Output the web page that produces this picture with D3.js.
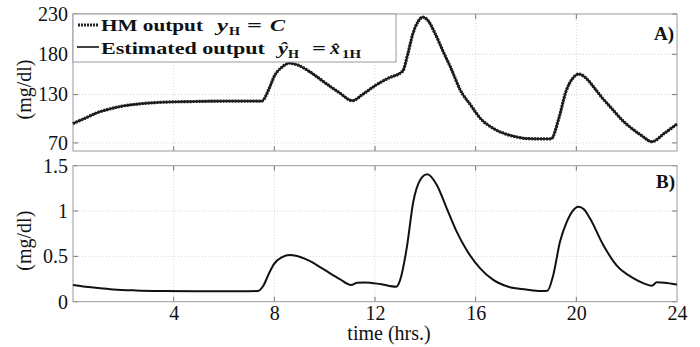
<!DOCTYPE html>
<html><head><meta charset="utf-8">
<script src="https://cdn.jsdelivr.net/npm/d3@7"></script>
<style>body{margin:0;background:#fff}svg{display:block}</style>
</head><body><svg id="c" width="700" height="347"></svg>
<script>
// ---- data ----
const xTicks = [4, 8, 12, 16, 20, 24];
const yTicksTop = [70, 130, 180, 230];
const yTicksBot = [0, 0.5, 1, 1.5];
const yTickLabelsBot = ["0", "0.5", "1", "1.5"];

const timeTop = [0,0.5,1,1.5,2,2.5,3,4,5,6,7,7.5,7.8,8.0,8.3,8.6,8.9,9.4,10.0,10.6,11.1,11.5,12.0,12.5,13.1,13.3,13.5,13.7,13.9,14.1,14.4,14.7,15.0,15.4,15.8,16.2,16.7,17.2,17.7,18.0,18.5,19.0,19.3,19.6,19.85,20.1,20.4,20.7,21.0,21.4,21.8,22.2,22.6,23.0,23.5,24];
const hmOutput = [94,101,108,112.5,116,118,119.5,121,121.5,122,122,122,138,153,164,169,167,158.5,145,132,122.5,130,141,150,159,180,205,220,226,222,205,184,164,135,117,100,88,81,77,75.5,75,75,100,135,150,155.5,150,139,127,113,99,88,79,71.5,82,93.5];
const estOutput = [94,101,108,112.5,116,118,119.5,121,121.5,122,122,122,138,153,164,169,167,158.5,145,132,122.5,130,141,150,159,180,205,220,226,222,205,184,164,135,117,100,88,81,77,75.5,75,75,100,135,150,155.5,150,139,127,113,99,88,79,71.5,82,93.5];

const timeBot = [0,0.5,1,1.6,2.5,3.5,5,6,7,7.35,7.55,7.8,8.0,8.3,8.6,8.9,9.4,10.0,10.6,11.05,11.3,11.6,12.2,12.85,13.0,13.26,13.52,13.79,14.08,14.45,14.85,15.25,15.64,16.17,16.7,17.3,18.0,18.6,18.85,19.08,19.35,19.62,19.85,20.08,20.3,20.54,21.07,21.6,22.26,22.7,23.0,23.2,23.5,24];
const errorB = [0.184,0.165,0.15,0.135,0.124,0.118,0.115,0.114,0.115,0.118,0.17,0.32,0.42,0.49,0.515,0.505,0.45,0.35,0.25,0.185,0.21,0.212,0.195,0.165,0.24,0.59,1.10,1.34,1.405,1.29,1.03,0.77,0.57,0.37,0.24,0.165,0.135,0.118,0.12,0.29,0.66,0.88,1.0,1.048,1.02,0.92,0.625,0.40,0.26,0.2,0.176,0.214,0.21,0.19];

// ---- layout ----
const svg = d3.select("#c");
const L = 73, R = 677;
const x = d3.scaleLinear([0, 24], [L, R]);
const yT = d3.scaleLinear([60, 230], [151, 14]);
const yB = d3.scaleLinear([0, 1.5], [301.7, 165.7]);
const serif = "'Liberation Serif', 'Times New Roman', serif";

function panel(y, yTicks, yLabels, showX) {
  const g = svg.append("g");
  const [y0, y1] = y.range();
  g.selectAll(".vg").data(xTicks.filter(t => t < 24)).join("line")
    .attr("x1", d => x(d)).attr("x2", d => x(d)).attr("y1", y1).attr("y2", y0)
    .attr("stroke", "#c8c8c8").attr("stroke-width", 0.8).attr("stroke-dasharray", "1,2");
  g.selectAll(".hg").data(yTicks.filter(t => y(t) > y1 + 1 && y(t) < y0 - 1)).join("line")
    .attr("x1", L).attr("x2", R).attr("y1", d => y(d)).attr("y2", d => y(d))
    .attr("stroke", "#c8c8c8").attr("stroke-width", 0.8).attr("stroke-dasharray", "1,2");
  const tk = 5;
  g.selectAll(".xt").data(xTicks.filter(t => t < 24)).join("path")
    .attr("d", d => `M${x(d)},${y0}v${-tk}M${x(d)},${y1}v${tk}`)
    .attr("stroke", "#777").attr("stroke-width", 1);
  g.selectAll(".yt").data(yTicks).join("path")
    .attr("d", d => `M${L},${y(d)}h${tk}M${R},${y(d)}h${-tk}`)
    .attr("stroke", "#777").attr("stroke-width", 1);
  g.append("rect").attr("x", L).attr("y", y1).attr("width", R - L).attr("height", y0 - y1)
    .attr("fill", "none").attr("stroke", "#9a9a9a").attr("stroke-width", 1);
  const ay = d3.axisLeft(y).tickValues(yTicks).tickSize(0).tickPadding(5)
    .tickFormat((d, i) => yLabels ? yLabels[i] : d);
  const ga = g.append("g").attr("transform", `translate(${L},0)`).call(ay);
  ga.attr("font-family", null).attr("font-size", null);
  ga.select(".domain").remove();
  ga.selectAll("text").style("font-family", serif).style("font-size", "20px").attr("fill", "#111");
  if (showX) {
    const ax = d3.axisBottom(x).tickValues(xTicks).tickSize(0).tickPadding(4);
    const gx = g.append("g").attr("transform", `translate(0,${y0})`).call(ax);
    gx.attr("font-family", null).attr("font-size", null);
    gx.select(".domain").remove();
    gx.selectAll("text").style("font-family", serif).style("font-size", "20px").attr("fill", "#111");
  }
  return g;
}

panel(yT, yTicksTop, null, false);
panel(yB, yTicksBot, yTickLabelsBot, true);

// curves
const lineT = d3.line().x((d, i) => x(timeTop[i])).y(d => yT(d)).curve(d3.curveMonotoneX);
svg.append("path").attr("d", lineT(estOutput)).attr("fill", "none")
  .attr("stroke", "#000").attr("stroke-width", 1.8);
svg.append("path").attr("d", lineT(hmOutput)).attr("fill", "none")
  .attr("stroke", "#222").attr("stroke-width", 3.2).attr("stroke-dasharray", "2,1");

const lineB = d3.line().x((d, i) => x(timeBot[i])).y(d => yB(d)).curve(d3.curveMonotoneX);
svg.append("path").attr("d", lineB(errorB)).attr("fill", "none")
  .attr("stroke", "#111").attr("stroke-width", 2);

function txt(xp, yp, s, o = {}) {
  return svg.append("text").attr("x", xp).attr("y", yp).attr("text-anchor", o.anchor || "start")
    .style("font-family", serif).style("font-size", (o.size || 20) + "px")
    .style("font-weight", o.bold ? "bold" : "normal").attr("fill", "#111").text(s);
}
txt(674, 40, "A)", {anchor: "end", bold: true, size: 19});
txt(675, 188, "B)", {anchor: "end", bold: true, size: 19});

[yT, yB].forEach(s => {
  const cy = (s.range()[0] + s.range()[1]) / 2 + 7;
  svg.append("text").attr("transform", `translate(24,${cy}) rotate(-90)`)
    .attr("text-anchor", "middle").attr("dominant-baseline", "central")
    .style("font-family", serif).style("font-size", "20px").attr("fill", "#111").text("(mg/dl)");
});
txt(389, 340, "time (hrs.)", {anchor: "middle"});

// legend
const lg = svg.append("g");
lg.append("rect").attr("x", L).attr("y", 14).attr("width", 323).attr("height", 48)
  .attr("fill", "#fff").attr("stroke", "#9a9a9a").attr("stroke-width", 1);
lg.append("line").attr("x1", 78).attr("x2", 99).attr("y1", 25).attr("y2", 25)
  .attr("stroke", "#222").attr("stroke-width", 3).attr("stroke-dasharray", "2,1");
lg.append("line").attr("x1", 77).attr("x2", 99).attr("y1", 47).attr("y2", 47)
  .attr("stroke", "#000").attr("stroke-width", 1.5);

function word(xp, yp, str, len, opts = {}) {
  const t = lg.append("text").attr("x", xp).attr("y", yp)
    .style("font-family", serif).style("font-weight", "bold")
    .style("font-size", (opts.size || 17) + "px").attr("fill", "#111")
    .style("font-style", opts.italic ? "italic" : "normal").text(str);
  if (len) t.attr("textLength", len).attr("lengthAdjust", "spacingAndGlyphs");
  return t;
}
word(101, 31, "HM output", 102);
word(217, 31, "y", 11, {italic: true});
word(229, 35, "H", 11, {size: 12});
word(247, 31, "=", 15);
word(270, 31, "C", 15, {italic: true});
word(101, 54, "Estimated output", 164);
word(278, 54, "ŷ", 10, {italic: true});
word(288, 58, "H", 11, {size: 12});
word(312, 54, "=", 14);
word(330, 54, "x\u0302", 10, {italic: true});
word(342, 58, "1H", 19, {size: 12});
</script></body></html>
